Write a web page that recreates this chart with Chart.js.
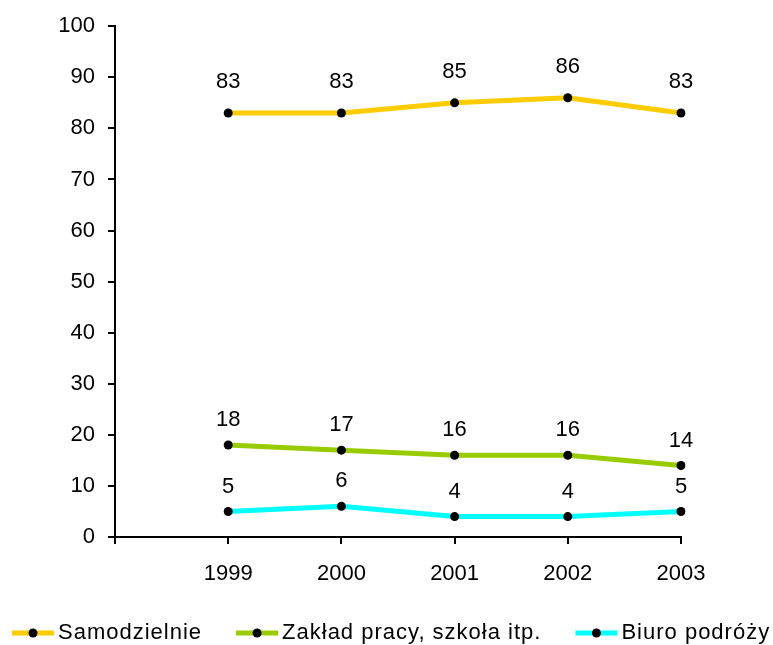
<!DOCTYPE html>
<html lang="pl">
<head>
  <meta charset="UTF-8">
  <title>Samodzielnie / Zakład pracy / Biuro podróży</title>
  <script src="https://cdnjs.cloudflare.com/ajax/libs/Chart.js/4.4.0/chart.umd.min.js"></script>
  <style>
    html, body { margin: 0; padding: 0; background: #fff; }
    #wrap { width: 773px; height: 645px; }
  </style>
</head>
<body>
  <div id="wrap"><canvas id="chart" width="773" height="645"></canvas></div>

  <script>
    // data (first slot is the empty category at the axis start)
    const years = ['', '1999', '2000', '2001', '2002', '2003'];
    const samodzielnie = [null, 83, 83, 85, 86, 83];
    const zakladPracy = [null, 18, 17, 16, 16, 14];
    const biuroPodrozy = [null, 5, 6, 4, 4, 5];
    const seriesNames = ['Samodzielnie', 'Zakład pracy, szkoła itp.', 'Biuro podróży'];
    const seriesColors = ['#FFCC00', '#99CC00', '#00FFFF'];
    const yTicks = [0, 10, 20, 30, 40, 50, 60, 70, 80, 90, 100];

    const FONT = '"Liberation Sans", Arial, sans-serif';

    // value labels above each point
    const valueLabels = {
      id: 'valueLabels',
      afterDatasetsDraw(chart) {
        const ctx = chart.ctx;
        const lift = [31, 25, 25];
        ctx.save();
        ctx.font = '22px ' + FONT;
        ctx.fillStyle = '#000';
        ctx.textAlign = 'center';
        ctx.textBaseline = 'middle';
        chart.data.datasets.forEach((ds, i) => {
          chart.getDatasetMeta(i).data.forEach((pt, j) => {
            if (ds.data[j] == null) return;
            ctx.fillText(String(ds.data[j]), pt.x, pt.y - lift[i]);
          });
        });
        ctx.restore();
      }
    };

    // legend in the Excel style: line with a dot, then the name
    const lineLegend = {
      id: 'lineLegend',
      afterDraw(chart) {
        const ctx = chart.ctx;
        const y = 633;
        let x = 12;
        ctx.save();
        ctx.font = '22px ' + FONT;
        ctx.letterSpacing = '1px';
        ctx.textBaseline = 'middle';
        chart.data.datasets.forEach((ds) => {
          ctx.strokeStyle = ds.borderColor;
          ctx.lineWidth = 5;
          ctx.beginPath();
          ctx.moveTo(x, y);
          ctx.lineTo(x + 42, y);
          ctx.stroke();
          ctx.fillStyle = '#000';
          ctx.beginPath();
          ctx.arc(x + 21, y, 4.5, 0, Math.PI * 2);
          ctx.fill();
          ctx.fillText(ds.label, x + 46, y);
          x += 46 + ctx.measureText(ds.label).width + 34;
        });
        ctx.restore();
      }
    };

    const seriesData = [samodzielnie, zakladPracy, biuroPodrozy];

    new Chart(document.getElementById('chart'), {
      type: 'line',
      data: {
        labels: years,
        datasets: seriesData.map((d, i) => ({
          label: seriesNames[i],
          data: d,
          borderColor: seriesColors[i],
          backgroundColor: seriesColors[i],
          borderWidth: 5,
          tension: 0,
          pointRadius: 4.5,
          pointBackgroundColor: '#000',
          pointBorderColor: '#000',
          pointBorderWidth: 0
        }))
      },
      options: {
        responsive: false,
        animation: false,
        events: [],
        layout: { padding: { top: 24, right: 92, bottom: 0, left: 0 } },
        plugins: {
          legend: { display: false },
          tooltip: { enabled: false }
        },
        scales: {
          x: {
            offset: false,
            grid: { display: true, drawOnChartArea: false, drawTicks: true, tickLength: 7, color: '#000', lineWidth: 2 },
            border: { color: '#000', width: 2 },
            ticks: { color: '#000', font: { size: 22, family: FONT }, padding: 17, maxRotation: 0, autoSkip: false },
            afterFit(scale) { scale.height = 108; }
          },
          y: {
            min: 0,
            max: 100,
            afterBuildTicks(scale) { scale.ticks = yTicks.map(v => ({ value: v })); },
            grid: { display: true, drawOnChartArea: false, drawTicks: true, tickLength: 7, color: '#000', lineWidth: 2 },
            border: { color: '#000', width: 2 },
            ticks: { color: '#000', font: { size: 22, family: FONT }, padding: 13 },
            afterFit(scale) { scale.width = 115; }
          }
        }
      },
      plugins: [valueLabels, lineLegend]
    });
  </script>
</body>
</html>
